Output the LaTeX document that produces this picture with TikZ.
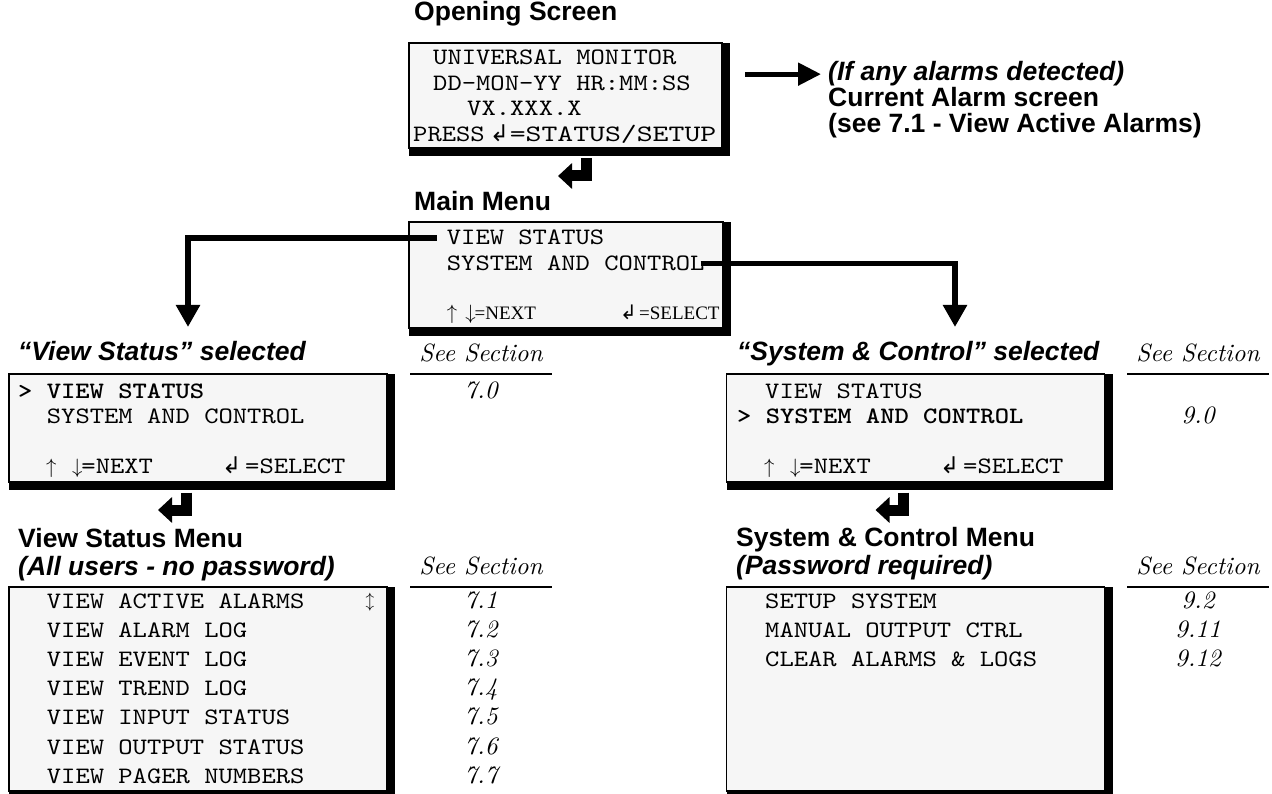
\documentclass[tikz,border=0pt]{standalone}
\usepackage{fontspec}
\setsansfont{Liberation Sans}
\newfontfamily\lcdfont{lmmono10-regular.otf}[FakeStretch=1.16,BoldFont=lmmonolt10-bold.otf]
\newfontfamily\tecfont{Liberation Serif}
\newfontfamily\simbfont{DejaVu Sans}
\newfontfamily\secfont{lmroman10-italic.otf}
\usetikzlibrary{arrows.meta}
\definecolor{lcdcinza}{RGB}{246,246,246}
\newcommand{\lcd}{\lcdfont\fontsize{23.5}{28}\selectfont}
\newcommand{\titulo}{\sffamily\bfseries\fontsize{26.5}{30}\selectfont}
\newcommand{\secao}{\secfont\fontsize{25}{28}\selectfont}
\newcommand{\teclaenter}[1][23]{{\simbfont\fontsize{#1}{20}\selectfont ↲}}
\newcommand{\cima}{{\fontsize{21}{24}\selectfont$\uparrow$}}
\newcommand{\baixo}{{\fontsize{21}{24}\selectfont$\downarrow$}}
\begin{document}
\begin{tikzpicture}[x=1pt, y=-1pt, %unidades em pixels, y para baixo
	caixa/.style={draw=black, line width=1.6pt, fill=lcdcinza, anchor=north west, inner sep=0pt, outer sep=0pt},
	linha/.style={anchor=base west, inner sep=0pt, font=\lcd},
	rotulo/.style={anchor=base west, inner sep=0pt, font=\titulo},
	secao/.style={anchor=base, inner sep=0pt, font=\secao},
	seta/.style={line width=5.5pt, line join=miter, -{Triangle[width=23pt,length=22pt]}},
	retorno/.style={line width=11pt, line join=miter, -{Triangle[width=25pt,length=14pt]}},
	regua/.style={line width=2pt}]
	\useasboundingbox (0,0) rectangle (1272,794); %margens da figura
		%Caixas das telas
	\node[caixa, minimum width=313pt, minimum height=105pt] (open) at (409,43) {}; %Tela inicial
	\node[caixa, minimum width=314pt, minimum height=106pt] (main) at (409,222) {}; %Menu principal
	\node[caixa, minimum width=378pt, minimum height=108pt] (vsel) at (9,374) {}; %View Status selecionado
	\node[caixa, minimum width=378pt, minimum height=108pt] (ssel) at (726.5,374) {}; %System selecionado
	\node[caixa, minimum width=378pt, minimum height=204pt] (vsmenu) at (9,587) {}; %Menu View Status
	\node[caixa, minimum width=378pt, minimum height=204pt] (scmenu) at (726.5,587) {}; %Menu System
	\foreach \b in {open,main,vsel,ssel,vsmenu,scmenu}{
		\fill (\b.north east) rectangle ([xshift=8pt,yshift=-8pt]\b.south east); %sombra direita
		\fill (\b.south west) rectangle ([xshift=8pt,yshift=-8pt]\b.south east); %sombra inferior
	}
		%Titulos
	\node[rotulo] (topen) at (414,21) {Opening Screen};
	\node[rotulo] (tmain) at (414,211) {Main Menu};
	\node[rotulo, font=\titulo\itshape] (tvsel) at (18,360) {“View Status” selected};
	\node[rotulo, font=\titulo\itshape] (tssel) at (737,360) {“System \& Control” selected};
	\node[rotulo] (tvsm) at (18,547) {View Status Menu};
	\node[rotulo, font=\titulo\itshape] (tvsm2) at (18,575) {(All users - no password)};
	\node[rotulo] (tscm) at (736,546) {System \& Control Menu};
	\node[rotulo, font=\titulo\itshape] (tscm2) at (736,574) {(Password required)};
	\node[rotulo, font=\titulo\itshape] (al1) at (828,81) {(If any alarms detected)}; %Texto dos alarmes
	\node[rotulo] (al2) at (828,107) {Current Alarm screen};
	\node[rotulo] (al3) at (828,133) {(see 7.1 - View Active Alarms)};
		%Tela inicial
	\node[linha] (op1) at (433,65) {UNIVERSAL MONITOR};
	\node[linha] (op2) at (433,90.5) {DD-MON-YY HR:MM:SS};
	\node[linha] (op3) at (467,116) {VX.XXX.X};
	\node[linha] (op4) at (413,141.5) {PRESS\hspace{5pt}\makebox[20pt][l]{\teclaenter}\scalebox{1.11}[1]{=STATUS/SETUP}};
		%Menu principal
	\node[linha] (mm1) at (446.7,245) {VIEW STATUS};
	\node[linha] (mm2) at (446.7,270.5) {SYSTEM AND CONTROL};
	\node[linha] (mm3) at (446.7,320) {\cima\hspace{8pt}\baixo\kern-1pt{\tecfont\fontsize{19}{24}\selectfont =NEXT}};
	\node[linha] (mm4) at (620,320) {\makebox[19pt][l]{\teclaenter[20]}{\tecfont\fontsize{19}{24}\selectfont =SELECT}};
		%Telas de selecao
	\node[linha, font=\lcd\bfseries] (vs1) at (18,398) {> VIEW STATUS};
	\node[linha] (vs2) at (46.7,423) {SYSTEM AND CONTROL};
	\node[linha] (vs3) at (46,473) {\cima\hspace{15.5pt}\baixo\kern-1pt=NEXT};
	\node[linha] (vs4) at (222,473) {\makebox[23pt][l]{\teclaenter}=SELECT};
	\node[linha] (ss1) at (765,398) {VIEW STATUS};
	\node[linha, font=\lcd\bfseries] (ss2) at (737,423) {> SYSTEM AND CONTROL};
	\node[linha] (ss3) at (764,473) {\cima\hspace{15.5pt}\baixo\kern-1pt=NEXT};
	\node[linha] (ss4) at (940,473) {\makebox[23pt][l]{\teclaenter}=SELECT};
		%Menus e secoes
	\node[secao] (vsec) at (481,361) {See Section};
	\draw[regua] (410,374.3) -- (552,374.3);
	\node[secao] (v70) at (481,398) {7.0};
	\node[secao] (ssec) at (1198,361) {See Section};
	\draw[regua] (1127,374.3) -- (1269,374.3);
	\node[secao] (s90) at (1198,423) {9.0};
	\node[secao] (vsec2) at (481,574) {See Section};
	\draw[regua] (410,586.7) -- (552,586.7);
	\node[secao] (ssec2) at (1198,574) {See Section};
	\draw[regua] (1127,586.7) -- (1269,586.7);
	\foreach \txt/\num [count=\i from 0] in {VIEW ACTIVE ALARMS/7.1, VIEW ALARM LOG/7.2, VIEW EVENT LOG/7.3, VIEW TREND LOG/7.4, VIEW INPUT STATUS/7.5, VIEW OUTPUT STATUS/7.6, VIEW PAGER NUMBERS/7.7}{
		\node[linha] (vm\i) at (46.7,{608+29.2*\i}) {\txt}; %itens do menu
		\node[secao] (vn\i) at (481,{608+29.2*\i}) {\num}; %secao
	}
	\node[anchor=base, inner sep=0pt, font=\fontsize{19}{20}\selectfont] (rolar) at (370,606) {$\updownarrow$};
	\foreach \txt/\num [count=\i from 0] in {SETUP SYSTEM/9.2, MANUAL OUTPUT CTRL/9.11, CLEAR ALARMS \& LOGS/9.12}{
		\node[linha] (sm\i) at (765,{608+29.2*\i}) {\txt};
		\node[secao] (sn\i) at (1198,{608+29.2*\i}) {\num};
	}
		%Setas
	\coordinate (vsin) at (188,327);
	\coordinate (scin) at (955,327);
	\draw[seta] ([xshift=-10pt]mm1.west) -| (vsin); %para View Status
	\draw[seta] ([xshift=-4pt]mm2.east) -| (scin); %para System and Control
	\path (open.east |- al1.west) coordinate (alsaida);
	\draw[seta, line width=5pt, -{Triangle[width=22pt,length=23pt]}] ([xshift=23pt]alsaida) -- ([xshift=-7pt]al1.west); %para alarmes
	\foreach \b in {open,vsel,ssel}
		\draw[retorno] ([xshift=177pt,yshift=-10.5pt]\b.south west) -- ++(0,17.5) -- ++(-28,0); %tecla enter
\end{tikzpicture}
\end{document}
